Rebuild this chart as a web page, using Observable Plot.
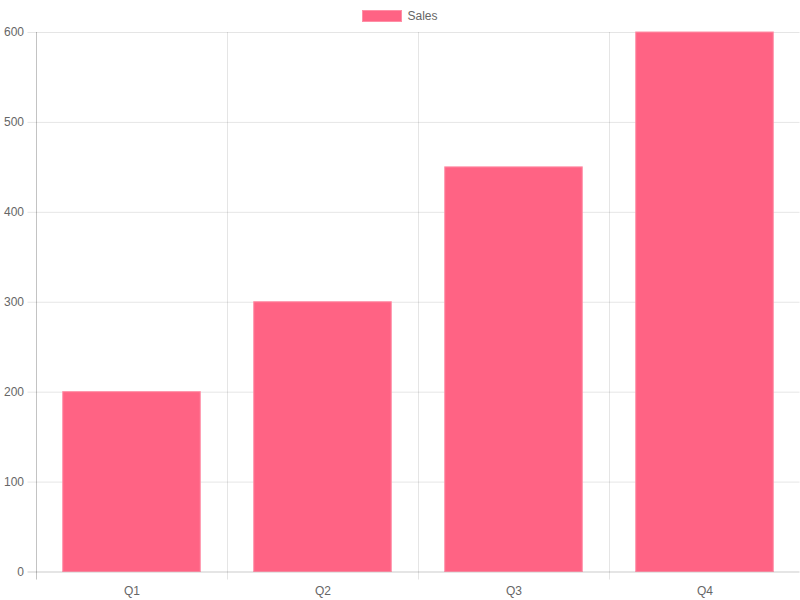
<!DOCTYPE html>
<html>
<head>
<meta charset="utf-8">
<script src="https://cdn.jsdelivr.net/npm/d3@7"></script>
<script src="https://cdn.jsdelivr.net/npm/@observablehq/plot@0.6"></script>
<style>
  html, body { margin: 0; padding: 0; background: #fff; }
  #wrap { position: relative; width: 800px; height: 600px; font-family: "Liberation Sans", Arial, Helvetica, sans-serif; }
  #legend { position: absolute; top: 0; left: 0; width: 800px; height: 32px; display: flex; justify-content: center; align-items: center; gap: 5px; font-size: 12px; color: #666; padding-left: 0; }
  #legend .box { width: 40px; height: 12px; background: #ff6384; box-sizing: border-box; border: 1px solid #ff8fa6; }
</style>
</head>
<body>
<div id="wrap">
  <div id="legend"><span class="box"></span><span>Sales</span></div>
  <div id="chart"></div>
</div>
<script>
const categories = ["Q1", "Q2", "Q3", "Q4"];
const sales = [200, 300, 450, 600];
const yTicks = [0, 100, 200, 300, 400, 500, 600];
const seriesName = "Sales";

const data = categories.map((c, i) => ({quarter: c, value: sales[i]}));

const W = 800, H = 600;
const mL = 35.5, mR = 0.5, mT = 32, mB = 28.5;
const step = (W - mL - mR) / categories.length;
const inset = step * 0.14;

const chart = Plot.plot({
  width: W,
  height: H,
  marginLeft: mL,
  marginRight: mR,
  marginTop: mT,
  marginBottom: mB,
  style: {fontFamily: '"Liberation Sans", Arial, Helvetica, sans-serif', fontSize: "12px", color: "#666", background: "transparent"},
  x: {domain: categories, padding: 0, label: null},
  y: {domain: [0, 600], ticks: yTicks, label: null},
  marks: [
    Plot.ruleY(yTicks, {y: d => d, stroke: "#000", strokeOpacity: 0.1, insetLeft: -8}),
    Plot.ruleX(categories, {x: d => d, dx: -step / 2, stroke: "#000", strokeOpacity: 0.1, insetBottom: -8}),
    Plot.ruleX([categories[categories.length - 1]], {x: d => d, dx: step / 2, stroke: "#000", strokeOpacity: 0.1, insetBottom: -8}),
    Plot.barY(data, {x: "quarter", y: "value", fill: "#ff6384", stroke: "#ff8fa6", strokeWidth: 1, insetLeft: inset, insetRight: inset}),
    Plot.ruleY([0], {stroke: "#000", strokeOpacity: 0.1, insetLeft: -8}),
    Plot.ruleX([categories[0]], {x: d => d, dx: -step / 2, stroke: "#000", strokeOpacity: 0.15, insetBottom: -8}),
    Plot.axisY({ticks: yTicks, tickSize: 0, tickPadding: 12, fill: "#666", label: null}),
    Plot.axisX({tickSize: 0, tickPadding: 14, fill: "#666", label: null})
  ]
});
document.getElementById("chart").appendChild(chart);
</script>
</body>
</html>
